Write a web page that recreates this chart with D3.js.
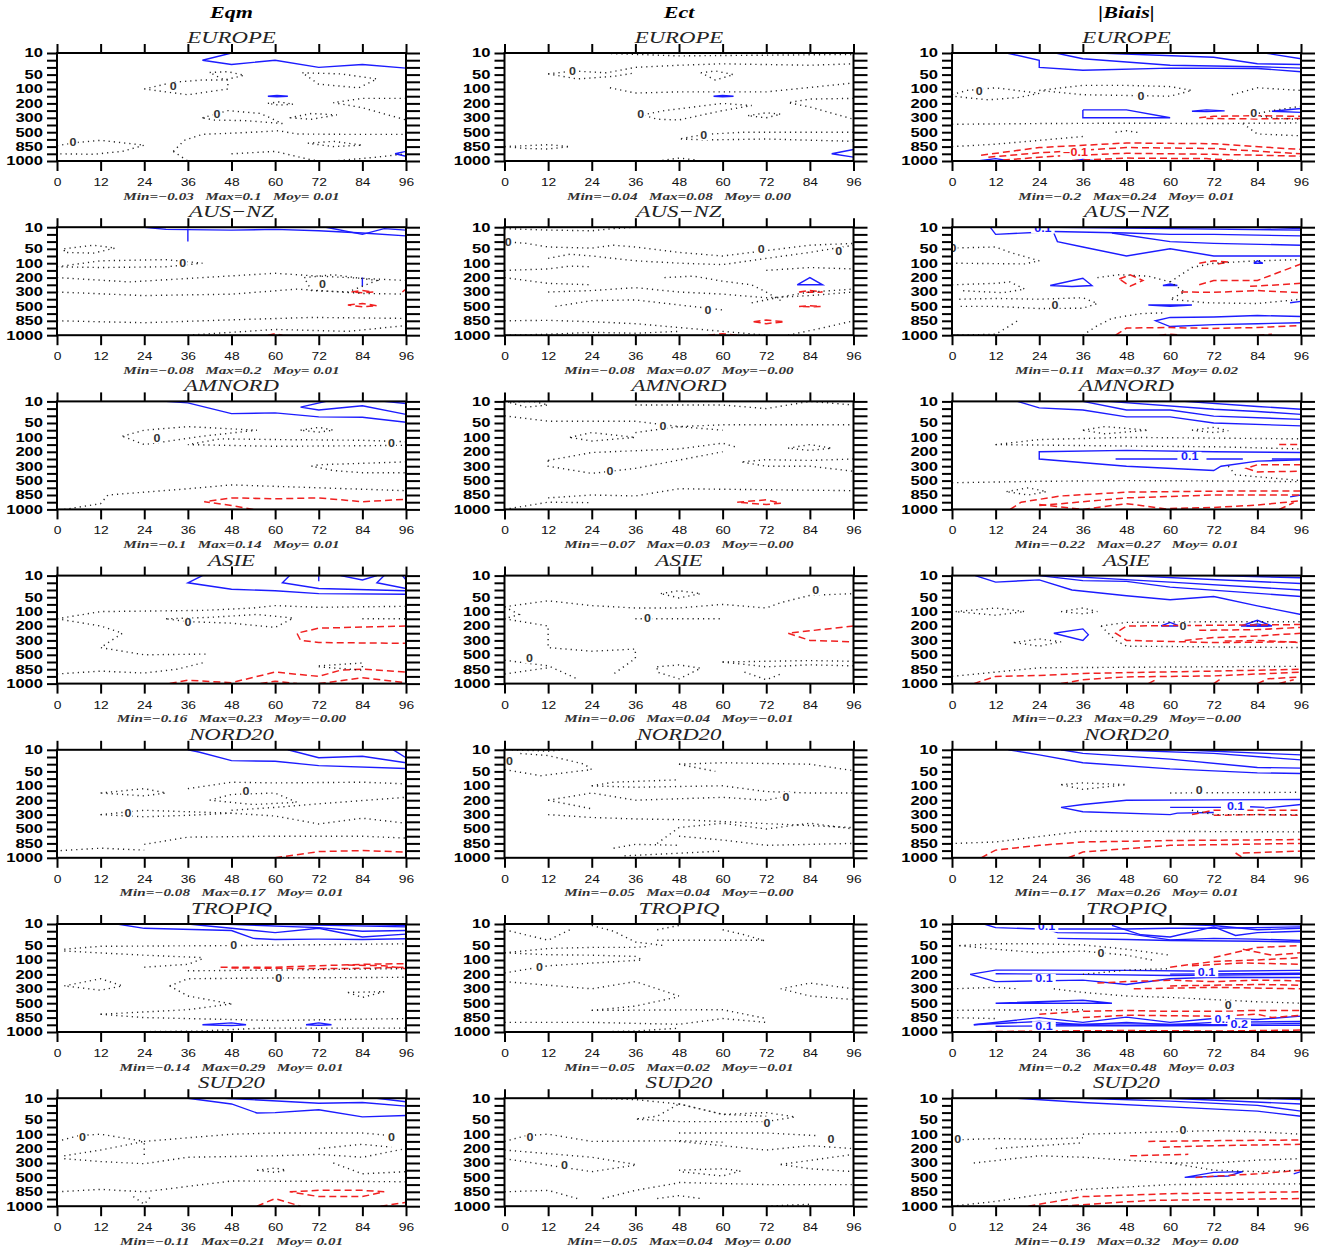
<!DOCTYPE html>
<html>
<head>
<meta charset="utf-8">
<script src="https://cdn.jsdelivr.net/npm/d3@7"></script>
<style>
body{margin:0;background:#fff}
svg{display:block}
.frame{fill:none;stroke:#000;stroke-width:2}
.ax path{display:none}
.ax line{stroke:#000;stroke-width:2}
.pos{fill:none;stroke:#1c1cff;stroke-width:1.4}
.neg{fill:none;stroke:#f02020;stroke-width:1.5;stroke-dasharray:7 4}
.zero{fill:none;stroke:#222;stroke-width:1.4;stroke-dasharray:1.2 4}
</style>
</head>
<body>
<svg id="chart" width="1324" height="1250"></svg>
<script>
// axes
const levels = [10,20,30,50,70,100,150,200,250,300,400,500,700,850,925,1000];
const levelLabels = [10,50,100,200,300,500,850,1000];
const hours = [0,12,24,36,48,60,72,84,96];
const regions = ["EUROPE","AUS\u2212NZ","AMNORD","ASIE","NORD20","TROPIQ","SUD20"];
const scores = ["Eqm","Ect","|Biais|"];

// Min / Max / Moy under each panel (row = region, col = score)
const minVals = [["\u22120.03","\u22120.04","\u22120.2"],["\u22120.08","\u22120.08","\u22120.11"],["\u22120.1","\u22120.07","\u22120.22"],["\u22120.16","\u22120.06","\u22120.23"],["\u22120.08","\u22120.05","\u22120.17"],["\u22120.14","\u22120.05","\u22120.2"],["\u22120.11","\u22120.05","\u22120.19"]];
const maxVals = [["0.1","0.08","0.24"],["0.2","0.07","0.37"],["0.14","0.03","0.27"],["0.23","0.04","0.29"],["0.17","0.04","0.26"],["0.29","0.02","0.48"],["0.21","0.04","0.32"]];
const moyVals = [[" 0.01"," 0.00"," 0.01"],[" 0.01","\u22120.00"," 0.02"],[" 0.01","\u22120.00"," 0.01"],["\u22120.00","\u22120.01","\u22120.00"],[" 0.01","\u22120.00"," 0.01"],[" 0.01","\u22120.01"," 0.03"],[" 0.01"," 0.00"," 0.00"]];

// contour lines: [sign, [[hour, hPa], ...]]   "+" positive, "-" negative, "0" zero
const eqmEurope = [
 ["+",[[48,10],[40,20],[48,26],[60,20],[72,30],[84,26],[96,32]]],
 ["+",[[58,150],[60.5,145],[63.5,150],[60.5,155],[58,150]]],
 ["+",[[96,900],[93,925],[96,950]]],
 ["0",[[24,100],[32,72],[40,65],[47,65],[47,100],[36,140],[24,100]]],
 ["0",[[42,44],[47,42],[51.5,52],[46,65],[42,44]]],
 ["0",[[67.5,45],[78,48],[88,62],[83,95],[72,80],[67.5,45]]],
 ["0",[[58,200],[61,190],[65,205],[61,212],[58,200]]],
 ["0",[[96,165],[84,165],[76,195],[84,230],[96,330]]],
 ["0",[[40,300],[47,250],[56,270],[62,380],[52,340],[43,330],[40,300]]],
 ["0",[[64,300],[70,270],[77,280],[70,320],[64,300]]],
 ["0",[[32,900],[35,720],[40,560],[52,510],[61,480],[66,550],[80,560],[96,560]]],
 ["0",[[32,900],[36,1000]]],
 ["0",[[69,780],[76,740],[84,820],[76,850],[69,780]]],
 ["0",[[48,925],[60,900],[69,980],[72,1000]]],
 ["0",[[76,1000],[88,960],[96,925]]],
 ["0",[[0,830],[6,760],[12,720],[24,820],[18,900],[10,930],[0,925]]]
];
const ectEurope = [
 ["+",[[57.5,150],[60,145],[63,150],[60,155],[57.5,150]]],
 ["+",[[96,880],[90,925],[96,960]]],
 ["0",[[25,10],[48,14],[72,13],[96,12]]],
 ["0",[[12,48],[19,40],[28,45],[36,30],[48,27],[60,25],[84,27],[96,25]]],
 ["0",[[12,48],[20,62],[30,55],[36,45]]],
 ["0",[[29,95],[36,128],[48,120],[72,120],[96,75]]],
 ["0",[[54,45],[58,40],[63,50],[58,65],[54,45]]],
 ["0",[[38,280],[44,250],[60,200],[68,215],[60,250],[48,330],[42,320],[38,280]]],
 ["0",[[67,285],[72,265],[76,275],[72,300],[67,285]]],
 ["0",[[96,165],[84,170],[78,195],[84,225],[96,320]]],
 ["0",[[96,500],[66,500],[55,560],[48,690],[56,710],[72,690],[96,740]]],
 ["0",[[0,850],[6,830],[12,810],[18,850],[12,875],[6,870],[0,850]]],
 ["0",[[42,1000],[48,970],[53,990]]]
];
const biaisEurope = [
 ["+",[[15,10],[24,20],[24,30],[36,38],[60,32],[84,33],[96,42]]],
 ["+",[[28.5,10],[36,18],[60,27],[84,29],[96,32]]],
 ["+",[[40,10],[72,16],[84,25],[96,26]]],
 ["+",[[86,10],[96,18]]],
 ["+",[[36,245],[48,245],[60,300],[36,300],[36,245]]],
 ["+",[[66,255],[70,245],[75,252],[70,257],[66,255]]],
 ["+",[[88,255],[96,235],[96,262],[88,255]]],
 ["+",[[7,1000],[12,975],[16,1000]]],
 ["+",[[33,1000],[36,985],[40,1000]]],
 ["-",[[8,940],[24,860],[48,775],[72,790],[96,880]]],
 ["-",[[10,960],[24,915],[48,860],[72,870],[96,925]]],
 ["-",[[14,990],[28,950],[48,920],[72,930],[96,950]]],
 ["-",[[30,1000],[48,970],[70,975],[80,1000]]],
 ["-",[[68,300],[72,290],[84,285],[96,290]]],
 ["-",[[70,310],[84,315],[96,310]]],
 ["0",[[0,140],[4,110],[12,95],[24,130],[18,160],[10,175],[0,150]]],
 ["0",[[24,110],[36,85],[48,85],[60,90],[66,110],[60,150],[48,145],[36,140],[24,110]]],
 ["0",[[77,140],[84,95],[96,110]]],
 ["0",[[96,220],[88,250],[82,280],[90,310],[96,320]]],
 ["0",[[0,390],[24,380],[48,375],[72,380],[96,370]]],
 ["0",[[0,850],[12,800],[24,720],[36,620]]],
 ["0",[[80,380],[84,550],[96,600]]],
 ["0",[[45,500],[48,480],[52,520]]]
];
const eqmAus = [
 ["+",[[24,10],[30,13],[48,14],[60,13],[72,15],[84,18],[96,22]]],
 ["+",[[74,10],[84,20],[90,12],[96,14]]],
 ["+",[[36,12],[36,30]]],
 ["+",[[84,200],[84,260]]],
 ["-",[[81,300],[84,290],[87,300],[84,310],[81,300]]],
 ["-",[[80,480],[84,460],[88,490],[84,510],[80,480]]],
 ["-",[[95,300],[96,280]]],
 ["-",[[58,1000],[60,985],[62,1000]]],
 ["0",[[2,50],[10,40],[16,48],[10,62],[2,60],[2,50]]],
 ["0",[[0,125],[12,90],[30,85],[40,100],[30,125],[12,130],[0,125]]],
 ["0",[[0,200],[20,230],[40,200],[60,170],[72,190],[96,220]]],
 ["0",[[0,300],[24,350],[48,330],[66,280],[84,320],[96,330]]],
 ["0",[[0,850],[24,870],[48,830],[70,780],[96,800]]],
 ["0",[[36,1000],[60,940],[80,960],[96,900]]],
 ["0",[[68,200],[76,180],[88,220],[80,300],[70,290],[68,200]]]
];
const ectAus = [
 ["+",[[80.5,250],[84,200],[87.5,250],[80.5,250]]],
 ["-",[[81,300],[84,290],[87.5,300],[84,305],[81,300]]],
 ["-",[[81,500],[84,490],[87,500],[84,510],[81,500]]],
 ["-",[[68.5,860],[72,835],[77,860],[72,880],[68.5,860]]],
 ["-",[[56,1000],[60,985],[64,1000]]],
 ["0",[[0,12],[12,14],[24,15],[30,12],[36,10]]],
 ["0",[[0,30],[6,35],[12,45],[24,48],[30,40],[36,45],[48,60],[60,70],[72,55],[84,40],[96,35]]],
 ["0",[[12,80],[18,65],[24,70],[36,90],[48,100],[60,110],[72,80],[84,60],[96,40]]],
 ["0",[[0,150],[12,140],[18,120],[24,125]]],
 ["0",[[0,200],[12,240],[24,250]]],
 ["0",[[12,300],[24,290],[36,270],[48,300],[60,330],[72,380],[84,350],[96,300]]],
 ["0",[[14,500],[24,420],[36,410],[48,480],[56,550],[60,600]]],
 ["0",[[0,850],[12,840],[24,860],[36,880],[48,920],[60,960],[72,1000]]],
 ["0",[[0,1000],[12,990],[24,970],[36,980],[48,960]]],
 ["0",[[72,150],[84,130],[96,140]]],
 ["0",[[68,450],[78,350],[84,300],[96,280]]],
 ["0",[[78,1000],[88,920],[96,850]]],
 ["0",[[44,200],[52,190],[60,225],[68,250],[72,300],[76,420]]]
];
const biaisAus = [
 ["+",[[10.5,10],[12,20],[24,17]]],
 ["+",[[28,16],[48,18],[60,20],[72,20],[96,22]]],
 ["+",[[29,10],[60,12],[96,14]]],
 ["+",[[28,18],[29,30],[36,45],[48,70],[60,50],[72,70],[96,70]]],
 ["+",[[44,18],[60,30],[72,35],[96,40]]],
 ["+",[[84,10],[96,12]]],
 ["+",[[27,255],[36,205],[38.5,255],[33,262],[27,255]]],
 ["+",[[58,255],[60,245],[62,255],[58,255]]],
 ["+",[[83,100],[84,90],[85.5,100],[83,100]]],
 ["+",[[54,480],[60,500],[66,480],[54,480]]],
 ["+",[[96,760],[84,740],[72,770],[60,780],[56,850],[60,910],[72,890],[84,880],[96,870]]],
 ["+",[[93,450],[96,430]]],
 ["-",[[46,210],[49,180],[52.5,220],[49,260],[46,210]]],
 ["-",[[68,100],[72,90],[76,95],[72,110]]],
 ["-",[[68,250],[72,220],[84,220],[96,105]]],
 ["-",[[63,300],[72,305],[84,290],[96,310]]],
 ["-",[[82,260],[90,250],[96,240]]],
 ["-",[[45,1000],[48,925],[60,920],[72,930],[84,920],[96,900]]],
 ["-",[[57,1000],[60,990],[63,1000]]],
 ["-",[[84,1000],[88,990]]],
 ["0",[[0,48],[12,45],[16,60],[24,90],[20,105],[0,100]]],
 ["0",[[0,250],[12,240],[16,230],[20,280],[14,310],[2,290]]],
 ["0",[[2,400],[12,390],[24,400],[36,380],[40,460],[36,550],[24,560],[12,500],[2,500]]],
 ["0",[[0,1000],[12,990],[16,900],[18,850]]],
 ["0",[[40,200],[46,180],[54,190],[60,230],[64,300],[60,400],[70,450],[84,460],[96,400]]],
 ["0",[[36,1000],[40,900],[44,800],[52,700],[58,680]]],
 ["0",[[60,230],[66,130],[72,100],[84,90],[96,85]]]
];
const eqmAmnord = [
 ["+",[[30,10],[36,12],[48,27],[60,26],[72,33],[84,34],[96,48]]],
 ["+",[[74,10],[67,18],[72,22],[84,16],[96,28]]],
 ["+",[[90,10],[96,13]]],
 ["-",[[54,1000],[48,960],[40.5,920],[48,880],[60,890],[72,880],[84,920],[96,895]]],
 ["0",[[18,95],[24,70],[36,60],[55,70],[40,95],[24,150],[18,95]]],
 ["0",[[96,130],[84,120],[60,115],[45,110],[36,150],[60,162],[84,158],[96,155]]],
 ["0",[[67,70],[72,62],[76,70],[72,78],[67,70]]],
 ["0",[[96,270],[84,280],[72,290],[70,300],[76,360],[84,390],[96,390]]],
 ["0",[[2,1000],[12,940],[14,850],[36,720],[48,620],[72,700],[96,760]]]
];
const ectAmnord = [
 ["-",[[64,925],[72,900],[76,935],[72,950],[64,925]]],
 ["0",[[1,11],[8,10],[12,15],[6,18],[1,11]]],
 ["0",[[0,30],[12,45],[36,45],[48,60],[60,70]]],
 ["0",[[36,15],[60,15],[72,20],[84,10],[96,15]]],
 ["0",[[36,80],[48,60],[60,55],[96,55]]],
 ["0",[[18,100],[24,80],[36,100],[24,125],[18,100]]],
 ["0",[[12,260],[24,205],[48,180],[60,140],[64,170]]],
 ["0",[[12,260],[12,300],[24,400],[36,330],[60,200]]],
 ["0",[[96,250],[84,260],[72,255],[65,270],[72,300],[84,300],[96,370]]],
 ["0",[[78,175],[84,150],[90,175],[84,190],[78,175]]],
 ["0",[[12,880],[24,850],[36,860],[48,720],[96,760]]],
 ["0",[[0,1000],[12,925],[24,930]]]
];
const biaisAmnord = [
 ["+",[[18,10],[24,19],[36,22],[48,33],[60,33],[72,50],[96,58]]],
 ["+",[[36,10],[48,22],[60,22],[72,31],[96,40]]],
 ["+",[[43,10],[72,21],[84,24],[96,28]]],
 ["+",[[64,10],[84,17],[96,21]]],
 ["+",[[96,205],[72,200],[48,190],[24,200],[24,250],[48,300],[72,360],[74,300],[84,265],[96,255]]],
 ["+",[[45,250],[62,250]]],
 ["+",[[70,250],[80,250]]],
 ["+",[[88,250],[96,250]]],
 ["+",[[93,870],[96,850],[96,880]]],
 ["-",[[90,150],[96,150]]],
 ["-",[[96,290],[84,290],[81,330],[84,380],[96,370]]],
 ["-",[[16,1000],[19,925],[30,860],[48,790],[72,770],[96,765]]],
 ["-",[[24,960],[48,880],[72,850],[96,850]]],
 ["-",[[24,950],[36,1000]]],
 ["-",[[36,1000],[48,940],[60,1000]]],
 ["-",[[60,990],[72,980],[84,955],[96,910]]],
 ["-",[[90,1000],[94,930]]],
 ["0",[[12,150],[24,115],[48,100],[96,110]]],
 ["0",[[12,150],[48,160],[72,165],[96,180]]],
 ["0",[[36,70],[42,60],[54,70],[42,85],[36,70]]],
 ["0",[[66,70],[72,62],[76,72],[72,80],[66,70]]],
 ["0",[[76,300],[78,420],[96,500]]],
 ["0",[[0,560],[24,520],[48,500],[72,510],[96,530]]],
 ["0",[[15,780],[21,700],[26,780],[21,850],[15,780]]]
];
const eqmAsie = [
 ["+",[[40,10],[36,20],[48,29],[60,32],[72,40],[96,42]]],
 ["+",[[64,10],[62,20],[72,28],[96,32]]],
 ["+",[[72,10],[72,18]]],
 ["+",[[78,10],[84,16],[88,10]]],
 ["+",[[90,10],[88,20],[96,28]]],
 ["+",[[95,10],[96,16]]],
 ["-",[[96,200],[72,215],[66,250],[67,300],[72,330],[96,340]]],
 ["-",[[31,1000],[36,965],[48,990],[60,880],[72,925],[78,860],[84,850],[96,880]]],
 ["-",[[56,1000],[60,975],[66,1000]]],
 ["-",[[72,1000],[84,940],[96,990]]],
 ["0",[[0,150],[12,100],[40,95],[54,85],[60,75],[72,82],[96,78]]],
 ["0",[[0,150],[12,200],[18,250],[12,400],[24,500],[41,490]]],
 ["0",[[30,150],[42,140],[55,120],[65,145],[60,210],[48,180],[36,170],[30,150]]],
 ["0",[[84,150],[96,150]]],
 ["0",[[0,900],[12,870],[24,890],[33,850],[41,700]]],
 ["0",[[72,780],[84,720],[84,860],[72,800]]]
];
const ectAsie = [
 ["-",[[96,200],[78,250],[84,300],[96,320]]],
 ["0",[[0,80],[12,60],[24,75],[36,85],[48,85],[60,70],[72,85],[76,65],[84,45],[96,40]]],
 ["0",[[43,40],[48,32],[54,40],[48,52],[43,40]]],
 ["0",[[36,150],[60,150]]],
 ["0",[[0,80],[4,120],[0,150]]],
 ["0",[[0,150],[12,200],[12,400],[24,450],[36,420],[36,600],[30,900]]],
 ["0",[[0,650],[12,780],[20,950]]],
 ["0",[[0,900],[12,820]]],
 ["0",[[42,800],[48,760],[54,830],[48,950],[42,880],[42,800]]],
 ["0",[[60,700],[72,680],[84,660],[96,680]]],
 ["0",[[60,700],[72,800],[84,760],[96,780]]],
 ["0",[[66,880],[72,960],[76,900]]]
];
const biaisAsie = [
 ["+",[[6.4,10],[12,19],[24,16],[33,30],[48,46],[60,57],[72,48],[84,76],[96,120]]],
 ["+",[[24,10],[36,17],[48,18],[60,26],[96,48]]],
 ["+",[[28,10],[60,19],[96,30]]],
 ["+",[[48,10],[96,21]]],
 ["+",[[72,10],[96,13]]],
 ["+",[[28,250],[36,220],[37.5,260],[36,300],[28,250]]],
 ["+",[[57.5,200],[60,175],[62.5,200],[57.5,200]]],
 ["+",[[79.5,200],[84,160],[88,200],[79.5,200]]],
 ["+",[[81,200],[84,185],[87,200],[81,200]]],
 ["-",[[96,190],[72,195],[48,200],[45,250],[48,300],[72,330],[96,320]]],
 ["-",[[64,300],[72,280],[84,270],[96,250]]],
 ["-",[[68,230],[84,225],[96,210]]],
 ["-",[[75,310],[84,300],[96,330]]],
 ["-",[[6,1000],[12,925],[24,915],[36,895],[48,885],[72,870],[96,850]]],
 ["-",[[36,960],[48,930],[72,920],[96,880]]],
 ["-",[[30,1000],[36,960]]],
 ["-",[[54,1000],[56,960]]],
 ["-",[[72,1000],[74,950]]],
 ["-",[[84,1000],[87,950],[96,930]]],
 ["-",[[90,1000],[94,960]]],
 ["0",[[1,100],[12,85],[20,100],[12,125],[1,100]]],
 ["0",[[30,100],[36,85],[40,100],[36,115],[30,100]]],
 ["0",[[17,330],[24,290],[30,320],[24,380],[17,330]]],
 ["0",[[41,200],[48,175],[72,170],[96,170]]],
 ["0",[[41,200],[45,300],[48,380],[96,400]]],
 ["0",[[0,925],[12,880],[24,820],[48,810],[96,790]]]
];
const eqmNord20 = [
 ["+",[[36,10],[39,13],[48,25],[60,26],[72,34],[96,42]]],
 ["+",[[63.5,10],[72,21],[84,19],[96,28]]],
 ["+",[[92.5,10],[96,21]]],
 ["-",[[60,1000],[72,935],[84,925],[96,940]]],
 ["0",[[12,150],[24,120],[30,150],[24,170],[12,150]]],
 ["0",[[36,120],[48,85],[60,88],[84,85],[96,92]]],
 ["0",[[42,200],[48,160],[60,150],[66,215],[54,230],[42,200]]],
 ["0",[[48,270],[60,250],[72,225],[96,180]]],
 ["0",[[12,300],[24,270],[48,290],[60,320],[72,430],[84,350],[96,420]]],
 ["0",[[12,300],[24,330],[36,310],[48,290]]],
 ["0",[[1,925],[12,900],[24,920]]],
 ["0",[[24,860],[36,720],[60,700],[84,700],[96,740]]]
];
const ectNord20 = [
 ["0",[[0,45],[10,62],[24,45],[22,30],[12,18],[4,15]]],
 ["0",[[2,10],[12,12],[16,10]]],
 ["0",[[48,30],[60,28],[84,30],[96,48]]],
 ["0",[[48,30],[58,50]]],
 ["0",[[24,100],[30,85],[48,75]]],
 ["0",[[24,100],[36,110],[48,105],[60,100],[72,140],[84,150],[96,150]]],
 ["0",[[12,200],[24,150],[36,200],[60,180],[72,200],[76,180]]],
 ["0",[[12,200],[24,260]]],
 ["0",[[12,300],[24,340],[36,360],[48,370],[96,480]]],
 ["0",[[42,850],[48,480],[60,420],[72,500],[84,420],[96,500]]],
 ["0",[[48,700],[60,780],[72,870],[96,850]]],
 ["0",[[30,900],[36,860],[48,870]]],
 ["0",[[33,980],[60,930]]]
];
const biaisNord20 = [
 ["+",[[15.5,10],[24,17],[36,28],[60,43],[84,54],[96,56]]],
 ["+",[[30,10],[36,15],[60,23],[84,39],[96,41]]],
 ["+",[[44,10],[72,15],[96,24]]],
 ["+",[[62,10],[96,17]]],
 ["+",[[96,195],[72,198],[48,200],[36,230],[30,250],[36,280],[60,300],[62,290],[72,285]]],
 ["+",[[60,250],[74,250]]],
 ["+",[[82,245],[86,250]]],
 ["+",[[86,255],[96,230]]],
 ["-",[[66,300],[72,270],[84,270],[96,270]]],
 ["-",[[72,310],[84,300],[96,310]]],
 ["-",[[8,1000],[12,920],[24,870],[36,820],[60,790],[96,770]]],
 ["-",[[32,1000],[36,940],[60,870],[96,850]]],
 ["-",[[80,950],[96,930]]],
 ["-",[[78,950],[80,1000]]],
 ["0",[[30,95],[36,88],[48,95],[36,125],[30,95]]],
 ["0",[[60,150],[96,145]]],
 ["0",[[66,270],[72,300],[96,300]]],
 ["0",[[1,850],[12,820],[36,560],[96,580]]]
];
const eqmTropiq = [
 ["+",[[16.5,10],[24,16],[48,19],[54,30],[60,33],[72,32],[84,33],[96,31]]],
 ["+",[[36,10],[48,16],[60,22],[72,16],[84,28],[96,24]]],
 ["+",[[45,10],[72,15],[84,20],[96,19]]],
 ["+",[[57,10],[96,14]]],
 ["+",[[80,10],[96,12]]],
 ["+",[[40,925],[48,905],[52,925],[48,932],[40,925]]],
 ["+",[[68.5,925],[72,905],[75.5,925],[72,930],[68.5,925]]],
 ["-",[[45,150],[60,150],[72,140],[84,130],[96,125]]],
 ["-",[[48,155],[72,160],[84,158],[96,150]]],
 ["-",[[80,135],[90,140],[96,160]]],
 ["0",[[2,60],[12,52],[48,50],[96,45]]],
 ["0",[[2,65],[24,80],[40,90]]],
 ["0",[[24,150],[36,130],[40,95]]],
 ["0",[[36,175],[60,170],[96,160]]],
 ["0",[[31,280],[36,230],[60,225],[96,220]]],
 ["0",[[2,280],[12,230],[18,280],[12,320],[2,280]]],
 ["0",[[31,280],[36,400],[48,520]]],
 ["0",[[12,780],[24,850],[60,880],[96,860]]],
 ["0",[[12,780],[36,680],[48,520]]],
 ["0",[[80,350],[90,340],[84,420],[80,350]]],
 ["0",[[14,1000],[40,990],[56,960],[96,960]]]
];
const ectTropiq = [
 ["0",[[0,18],[12,35],[18,18]]],
 ["0",[[0,70],[12,58],[24,55],[36,55],[40,52]]],
 ["0",[[0,70],[12,78],[24,80],[36,85],[38,100]]],
 ["0",[[24,12],[30,20],[36,40],[44,50]]],
 ["0",[[42,18],[48,12]]],
 ["0",[[42,35],[60,35],[72,35]]],
 ["0",[[60,18],[66,25],[72,38]]],
 ["0",[[0,190],[12,140],[38,100]]],
 ["0",[[0,250],[24,300],[36,250],[48,400]]],
 ["0",[[24,700],[36,580],[48,410]]],
 ["0",[[24,700],[60,680],[72,860]]],
 ["0",[[0,900],[24,900],[48,920],[60,860],[72,900]]],
 ["0",[[96,300],[84,260],[76,300],[84,400],[96,450]]],
 ["0",[[24,1000],[36,990],[48,960]]]
];
const biaisTropiq = [
 ["+",[[8.8,10],[12,15],[24,17],[36,17],[48,17],[60,16],[72,16],[96,14]]],
 ["+",[[24,14],[29,22],[48,23],[60,34],[72,30],[84,32],[96,36]]],
 ["+",[[29,30],[48,33],[60,36],[84,38],[96,40]]],
 ["+",[[44,12],[52,25],[60,28],[72,14],[78,26],[84,22],[96,20]]],
 ["+",[[60,10],[72,12],[84,18],[96,16]]],
 ["+",[[70,10],[96,11]]],
 ["+",[[5,200],[12,170],[48,172],[72,178],[96,172]]],
 ["+",[[5,200],[12,250],[36,240],[48,270],[60,230],[72,220],[96,222]]],
 ["+",[[12,195],[36,200],[60,208],[96,200]]],
 ["+",[[60,198],[96,192]]],
 ["+",[[12,500],[36,460],[44,500],[12,500]]],
 ["+",[[6,925],[24,850],[36,900],[48,840],[60,900],[72,860],[84,870],[96,820]]],
 ["+",[[6,925],[24,890],[36,925],[48,900],[60,925],[72,900],[96,890]]],
 ["+",[[12,940],[36,935],[60,935],[96,930]]],
 ["+",[[24,925],[48,915],[72,925],[96,910]]],
 ["-",[[72,90],[84,55],[96,50]]],
 ["-",[[60,150],[72,110],[84,100],[96,90]]],
 ["-",[[80,60],[88,80],[96,70]]],
 ["-",[[66,140],[80,120],[96,130]]],
 ["-",[[40,260],[48,250],[60,240],[72,250],[84,240],[96,245]]],
 ["-",[[50,300],[72,290],[96,300]]],
 ["-",[[60,280],[84,270],[96,275]]],
 ["-",[[24,780],[36,720],[48,700],[60,720],[72,720],[84,700],[96,700]]],
 ["-",[[36,850],[48,800],[72,820],[84,780],[88,850],[96,800]]],
 ["-",[[0,1000],[24,990],[48,985],[72,990],[96,980]]],
 ["0",[[2,50],[12,45],[24,45],[36,48],[48,60],[60,80]]],
 ["0",[[2,50],[12,60],[24,70],[36,65],[48,80],[55,100]]],
 ["0",[[36,200],[48,170],[60,160]]],
 ["0",[[0,300],[12,290],[18,300]]],
 ["0",[[28,300],[36,350],[48,400],[60,420],[72,450],[84,480],[96,500]]],
 ["0",[[0,700],[12,690],[24,690],[36,680]]],
 ["0",[[0,850],[12,860]]]
];
const eqmSud20 = [
 ["+",[[36,10],[48,18],[55,31],[60,30],[72,26],[84,42],[96,38]]],
 ["+",[[46,10],[72,17],[84,16],[96,21]]],
 ["+",[[88,10],[96,15]]],
 ["-",[[55,1000],[60,920],[67,1000]]],
 ["-",[[64,850],[72,820],[84,820],[90,850],[84,900],[72,900],[64,850]]],
 ["-",[[89,1000],[96,960]]],
 ["0",[[0,150],[6,110],[12,100],[24,150],[48,100],[60,95],[84,95],[92,110]]],
 ["0",[[2,250],[12,210],[24,150],[24,250]]],
 ["0",[[2,270],[12,290],[24,310],[36,260],[60,250],[72,240],[84,260],[96,200]]],
 ["0",[[72,200],[84,170],[92,190]]],
 ["0",[[55,400],[60,370],[63,400],[60,430],[55,400]]],
 ["0",[[76,300],[84,450],[96,420]]],
 ["0",[[0,850],[12,800],[24,850],[48,600],[96,620]]],
 ["0",[[21,900],[24,980],[26,890]]]
];
const ectSud20 = [
 ["0",[[25,10],[36,12],[48,18],[60,35],[72,40]]],
 ["0",[[48,18],[54,25],[60,35],[72,30],[80,42],[72,55],[60,55],[48,55],[36,48],[42,40],[48,18]]],
 ["0",[[48,95],[72,95],[86,110]]],
 ["0",[[0,150],[6,110],[12,100],[24,150],[48,145],[60,155]]],
 ["0",[[48,150],[72,210],[84,180],[96,200]]],
 ["0",[[0,270],[12,330],[24,420],[36,330]]],
 ["0",[[0,210],[24,260],[36,320]]],
 ["0",[[48,400],[60,380],[65,410],[60,480],[48,420]]],
 ["0",[[48,640],[72,700],[96,700]]],
 ["0",[[76,320],[96,240]]],
 ["0",[[76,320],[84,380],[96,420]]],
 ["0",[[0,850],[12,820],[20,920]]],
 ["0",[[27,920],[36,820],[48,650]]],
 ["0",[[42,920],[48,890],[54,920]]],
 ["0",[[72,1000],[84,980]]]
];
const biaisSud20 = [
 ["+",[[18,10],[36,16],[60,22],[84,28],[96,40]]],
 ["+",[[36,10],[60,14],[84,20],[96,28]]],
 ["+",[[60,10],[96,18]]],
 ["+",[[84,10],[96,12]]],
 ["+",[[64,500],[72,430],[80,420],[76,480],[64,500]]],
 ["+",[[94,450],[96,420]]],
 ["-",[[54,150],[72,145],[96,140]]],
 ["-",[[58,190],[72,180],[96,170]]],
 ["-",[[49,250],[65,240]]],
 ["-",[[67,500],[84,450],[96,400]]],
 ["-",[[21,1000],[36,900],[60,870],[96,850]]],
 ["-",[[30,1000],[54,940],[96,920]]],
 ["0",[[0,140],[12,130],[24,135],[36,125]]],
 ["0",[[36,100],[48,95],[60,90],[72,85],[84,90],[96,100]]],
 ["0",[[12,200],[24,180],[36,160]]],
 ["0",[[6,300],[24,250],[36,260],[48,280],[60,300],[72,300],[84,280],[96,270]]],
 ["0",[[0,1000],[12,950],[24,880],[36,800],[60,700],[96,680]]],
 ["0",[[60,300],[72,400],[84,420],[96,400]]]
];

// contour labels per region: [col, hour, hPa, text]
const labelsEurope = [[0,32,90,"0"],[0,44,275,"0"],[0,4.4,760,"0"],[1,18.7,40,"0"],[1,37.5,275,"0"],[1,54.8,580,"0"],[2,7.5,115,"0"],[2,52,155,"0"],[2,83,270,"0"],[2,34,915,"\u22120.1"]];
const labelsAus = [[0,34.6,100,"0"],[0,73,245,"0"],[1,1,32,"0"],[1,70.6,52,"0"],[1,91.9,58,"0"],[1,56,600,"0"],[2,0.3,48,"0"],[2,28.3,490,"0"],[2,25,12,"0.1"]];
const labelsAmnord = [[0,27.5,105,"0"],[0,92,140,"0"],[1,43.6,59,"0"],[1,29,370,"0"],[2,65.4,235,"0.1"]];
const labelsAsie = [[0,36,175,"0"],[1,39.3,150,"0"],[1,85.6,32,"0"],[1,6.9,600,"0"],[2,63.5,205,"0"]];
const labelsNord20 = [[0,52,140,"0"],[0,19.5,290,"0"],[1,1.4,26,"0"],[1,77.4,178,"0"],[2,68,135,"0"],[2,78,245,"0.1"]];
const labelsTropiq = [[0,48.6,50,"0"],[0,61,225,"0"],[1,9.6,155,"0"],[2,41,72,"0"],[2,76,560,"0"],[2,26,14,"0.1"],[2,25.3,230,"0.1"],[2,70,185,"0.1"],[2,25.3,940,"0.1"],[2,74.6,865,"0.1"],[2,79,920,"0.2"]];
const labelsSud20 = [[0,7,120,"0"],[0,92,120,"0"],[1,7,125,"0"],[1,16.5,340,"0"],[1,72.2,61,"0"],[1,89.8,140,"0"],[2,1.6,140,"0"],[2,63.5,85,"0"]];

const panelLines = [
  [eqmEurope, ectEurope, biaisEurope],
  [eqmAus, ectAus, biaisAus],
  [eqmAmnord, ectAmnord, biaisAmnord],
  [eqmAsie, ectAsie, biaisAsie],
  [eqmNord20, ectNord20, biaisNord20],
  [eqmTropiq, ectTropiq, biaisTropiq],
  [eqmSud20, ectSud20, biaisSud20]
];
const panelLabels = [labelsEurope, labelsAus, labelsAmnord, labelsAsie, labelsNord20, labelsTropiq, labelsSud20];

// layout
const SX = 1.38;            // the lettering of the original is stretched horizontally
const left0 = 57, colStep = 447.5, pw = 349;
const top0 = 53, rowStep = 174.2, ph = 108;

const svg = d3.select("#chart");
const x = d3.scaleLinear().domain([0, 96]).range([0, pw]);
const y = d3.scaleLinear().domain(levels).range(levels.map((d, i) => i * ph / (levels.length - 1)));
const line = d3.line().x(d => x(d[0])).y(d => y(d[1]));
const cls = {"+": "pos", "-": "neg", "0": "zero"};

function stretched(g, tx, ty, str) {
  return g.append("text")
    .attr("transform", `translate(${tx},${ty}) scale(${SX},1)`)
    .attr("text-anchor", "middle")
    .text(str);
}

// column headers
scores.forEach((s, c) => {
  stretched(svg, left0 + c * colStep + pw / 2, 18, s)
    .style("font-family", "Liberation Serif").style("font-style", "italic")
    .style("font-weight", "bold").style("font-size", "16px");
});

regions.forEach((reg, r) => {
  scores.forEach((s, c) => {
    const g = svg.append("g")
      .attr("transform", `translate(${left0 + c * colStep},${top0 + r * rowStep})`);
    const id = "clip" + r + "_" + c;
    g.append("clipPath").attr("id", id).append("rect").attr("width", pw).attr("height", ph);

    const plot = g.append("g").attr("clip-path", `url(#${id})`);
    plot.selectAll("path")
      .data(panelLines[r][c])
      .join("path")
      .attr("class", d => cls[d[0]])
      .attr("d", d => line(d[1]));

    const labs = panelLabels[r].filter(d => d[0] === c);
    const lg = plot.selectAll("g.lab").data(labs).join("g")
      .attr("class", "lab")
      .attr("transform", d => `translate(${x(d[1])},${y(d[2])})`);
    lg.append("rect")
      .attr("x", d => -d[3].length * 3.6 - 1).attr("y", -5)
      .attr("width", d => d[3].length * 7.2 + 2).attr("height", 10)
      .attr("fill", "#fff");
    lg.append("text")
      .attr("text-anchor", "middle").attr("dy", "0.35em")
      .attr("transform", "scale(1.25,1)")
      .style("font-family", "Liberation Sans").style("font-weight", "bold").style("font-size", "10px")
      .attr("fill", d => d[3] === "0" ? "#333" : (d[3][0] === "\u2212" ? "#f02020" : "#1c1cff"))
      .text(d => d[3]);

    g.append("rect").attr("class", "frame").attr("width", pw).attr("height", ph);

    g.append("g").attr("class", "ax")
      .call(d3.axisTop(x).tickValues(hours).tickSize(9).tickFormat(""));
    g.append("g").attr("class", "ax").attr("transform", `translate(0,${ph})`)
      .call(d3.axisBottom(x).tickValues(hours).tickSize(10).tickPadding(8))
      .selectAll("text")
      .attr("transform", `scale(${SX},1)`)
      .style("font-family", "Liberation Sans").style("font-size", "10px").attr("fill", "#111");
    g.append("g").attr("class", "ax")
      .call(d3.axisLeft(y).tickValues(levels).tickSize(10)
        .tickFormat(d => levelLabels.includes(d) ? d : ""))
      .selectAll("text")
      .attr("x", -14 / SX)
      .attr("transform", `scale(${SX},1)`)
      .style("font-family", "Liberation Sans").style("font-weight", "bold")
      .style("font-size", "12px").attr("fill", "#000");
    g.append("g").attr("class", "ax").attr("transform", `translate(${pw},0)`)
      .call(d3.axisRight(y).tickValues(levels).tickSize(14).tickFormat(""));

    stretched(g, pw / 2, -10, reg)
      .style("font-family", "Liberation Serif").style("font-style", "italic")
      .style("font-size", "16.5px").attr("fill", "#222");

    const stat = "Min=" + minVals[r][c] + "\u00a0\u00a0\u00a0Max=" + maxVals[r][c] +
                 "\u00a0\u00a0\u00a0Moy=" + moyVals[r][c].replace(" ", "\u00a0");
    stretched(g, pw / 2, ph + 38.5, stat)
      .style("font-family", "Liberation Serif").style("font-style", "italic")
      .style("font-weight", "bold").style("font-size", "11px").attr("fill", "#333");
  });
});
</script>
</body>
</html>
